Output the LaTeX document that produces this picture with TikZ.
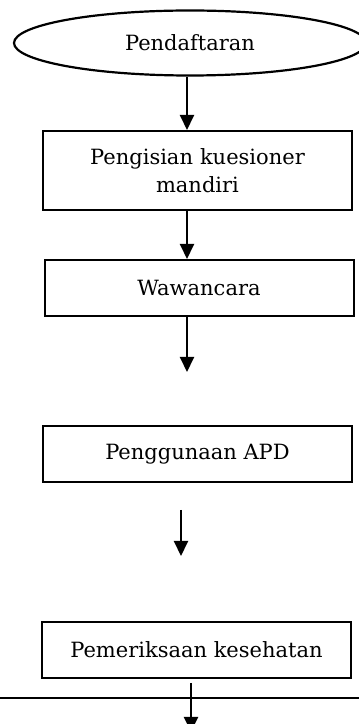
\documentclass[tikz,border=0pt]{standalone}
\usepackage{fontspec}
\setmainfont{DejaVu Serif}
\usetikzlibrary{arrows.meta,shapes.geometric}
\tikzset{
  start/.style={ellipse,draw=black,line width=2.2pt,minimum width=352pt,
                minimum height=65pt,inner sep=0pt,font=\fontsize{21}{28}\selectfont},
  proc/.style={rectangle,draw=black,line width=2pt,minimum width=309pt,
               minimum height=56pt,inner sep=4pt,align=center,
               font=\fontsize{21}{28}\selectfont},
  fl/.style={-{Triangle[length=15pt,width=14pt]},line width=2pt,draw=black}
}
\begin{document}
\begin{tikzpicture}[x=1pt,y=1pt]
  \useasboundingbox (0,0) rectangle (359,724);
  \node[start] (reg) at (190,681) {Pendaftaran};
  \node[proc,minimum height=79pt,text width=290pt] (kues) at (197.5,553.5) {Pengisian kuesioner\\mandiri};
  \node[proc] (waw) at (199,436) {Wawancara};
  \node[proc] (apd) at (197.5,270) {Penggunaan APD};
  \node[proc] (cek) at (196.5,74) {Pemeriksaan kesehatan};
  % free arrow ends
  \coordinate (e3) at (187,352);
  \coordinate (s4) at (181,214);
  \coordinate (e4) at (181,168);
  \coordinate (s5) at (191,41);
  \coordinate (e5) at (191,-8);
  \coordinate (hl) at (0,26);
  \coordinate (hr) at (359,26);
  \draw[fl] ([xshift=-3pt]reg.south) -- ([xshift=-3pt]reg.south |- kues.north);
  \draw[fl] ([xshift=-10.5pt]kues.south) -- ([xshift=-10.5pt]kues.south |- waw.north);
  \draw[fl] (e3 |- waw.south) -- (e3);
  \draw[fl] (s4) -- (e4);
  \draw[fl] (s5) -- (e5);
  \draw[line width=2pt] (hl) -- (hr);
\end{tikzpicture}
\end{document}
